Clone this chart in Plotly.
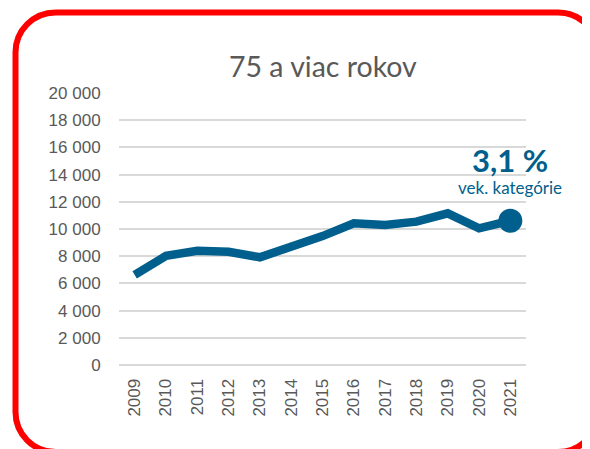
import plotly.graph_objects as go

# ---- data ----
years = ["2009", "2010", "2011", "2012", "2013", "2014", "2015",
         "2016", "2017", "2018", "2019", "2020", "2021"]
values = [6620, 8020, 8400, 8330, 7920, 8680, 9480,
          10420, 10290, 10540, 11150, 10050, 10610]
y_ticks = list(range(0, 20001, 2000))
title_text = "75 a viac rokov"
share_text = "3,1 %"
share_label = "vek. kategórie"

# ---- layout geometry (screen pixels; page body has an 8px margin) ----
OFF = 8
W, H = 590 - OFF, 449 - OFF
L, R, T, B = 119, 526, 93, 365
LINE_COLOR = "#005F8C"
TEXT_GREY = "#595959"


def px(x):
    return (x - L) / (R - L)


def py(y):
    return (B - y) / (B - T)


def rounded_rect(x0, y0, x1, y1, r):
    k = 0.5523 * r
    d = f"M {px(x0 + r)},{py(y0)} L {px(x1 - r)},{py(y0)} "
    d += f"C {px(x1 - r + k)},{py(y0)} {px(x1)},{py(y0 + r - k)} {px(x1)},{py(y0 + r)} "
    d += f"L {px(x1)},{py(y1 - r)} "
    d += f"C {px(x1)},{py(y1 - r + k)} {px(x1 - r + k)},{py(y1)} {px(x1 - r)},{py(y1)} "
    d += f"L {px(x0 + r)},{py(y1)} "
    d += f"C {px(x0 + r - k)},{py(y1)} {px(x0)},{py(y1 - r + k)} {px(x0)},{py(y1 - r)} "
    d += f"L {px(x0)},{py(y0 + r)} "
    d += f"C {px(x0)},{py(y0 + r - k)} {px(x0 + r - k)},{py(y0)} {px(x0 + r)},{py(y0)} Z"
    return d


fig = go.Figure()
fig.add_trace(go.Scatter(
    x=years, y=values, mode="lines",
    line=dict(color=LINE_COLOR, width=8.5, shape="linear"),
    hoverinfo="skip", showlegend=False, cliponaxis=False,
))
fig.add_trace(go.Scatter(
    x=[years[-1]], y=[values[-1]], mode="markers",
    marker=dict(color=LINE_COLOR, size=24, line=dict(width=0)),
    hoverinfo="skip", showlegend=False, cliponaxis=False,
))

shapes = [
    # white box behind the share annotation (hides gridlines)
    dict(type="rect", xref="paper", yref="paper",
         x0=px(437), x1=px(600), y0=py(125), y1=py(215),
         fillcolor="white", line=dict(width=0), layer="between"),
    # red rounded frame
    dict(type="path", xref="paper", yref="paper",
         path=rounded_rect(15.5, 12.5, 598, 452, 40),
         line=dict(color="#FF0000", width=6), fillcolor="rgba(0,0,0,0)",
         layer="above"),
]

annotations = [
    dict(text=title_text, xref="paper", yref="paper", x=0.5, y=py(66),
         xanchor="center", yanchor="middle", showarrow=False,
         font=dict(family="Lato", size=28.5, color=TEXT_GREY)),
    dict(text=f"<b>{share_text}</b>", xref="paper", yref="paper",
         x=px(510), y=py(160), xanchor="center", yanchor="middle",
         showarrow=False,
         font=dict(family="Lato", size=31, color=LINE_COLOR)),
    dict(text=share_label, xref="paper", yref="paper",
         x=px(510), y=py(187), xanchor="center", yanchor="middle",
         showarrow=False,
         font=dict(family="Lato", size=17, color=LINE_COLOR)),
]

fig.update_layout(
    width=W, height=H,
    margin=dict(l=L - OFF, r=590 - R, t=T - OFF, b=449 - B, pad=0),
    paper_bgcolor="white", plot_bgcolor="white",
    separators=", ",
    shapes=shapes, annotations=annotations,
    xaxis=dict(
        type="category", categoryorder="array", categoryarray=years,
        range=[-0.5, len(years) - 0.5],
        tickangle=-90, showgrid=False, zeroline=False, showline=False,
        ticks="outside", ticklen=6, tickcolor="rgba(0,0,0,0)",
        tickfont=dict(family="Liberation Sans, Arial", size=17, color=TEXT_GREY),
        fixedrange=True,
    ),
    yaxis=dict(
        range=[0, 20000], tickvals=y_ticks, tickformat=",d",
        showgrid=True, gridcolor="#D9D9D9", gridwidth=1.5,
        zeroline=True, zerolinecolor="#D9D9D9", zerolinewidth=1.5,
        showline=False,
        ticks="outside", ticklen=14, tickcolor="rgba(0,0,0,0)",
        tickfont=dict(family="Liberation Sans, Arial", size=17, color=TEXT_GREY),
        fixedrange=True,
    ),
)

fig.write_html("out.html", config={"displayModeBar": False})
